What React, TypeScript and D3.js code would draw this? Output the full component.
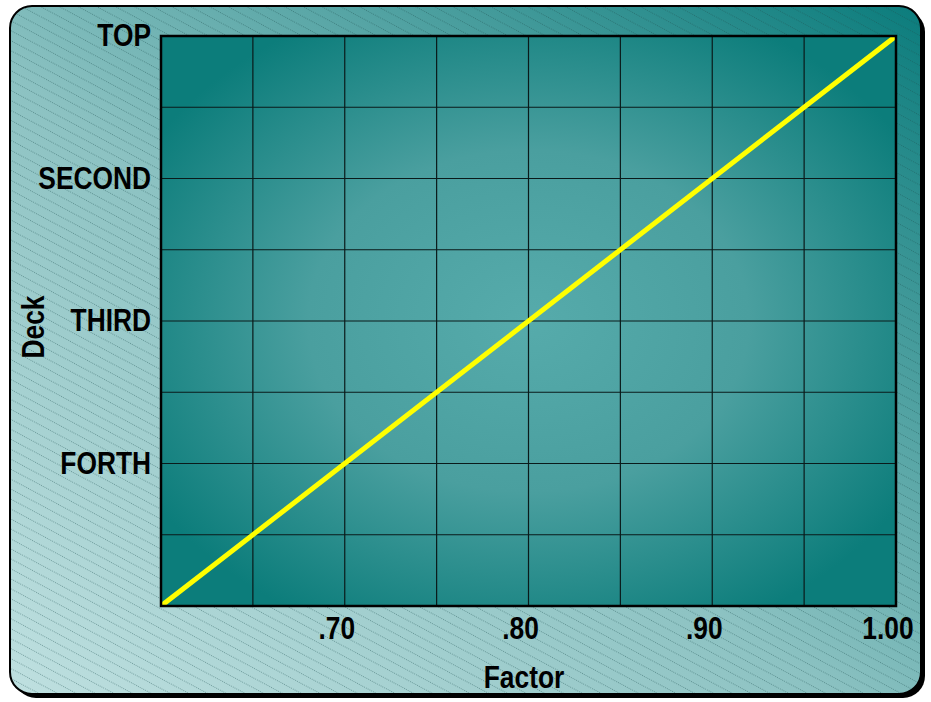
import React from "react";
import * as d3 from "d3";

const xTickValues = [0.7, 0.8, 0.9, 1.0];
const xTickLabels = [".70", ".80", ".90", "1.00"];
const yTickValues = [1, 2, 3, 4];
const yTickLabels = ["FORTH", "THIRD", "SECOND", "TOP"];
const lineX = [0.6, 1.0];
const lineY = [0, 4];
const xDomain = [0.6, 1.0];
const yDomain = [0, 4];

const W = 931;
const H = 702;
const FONT = "'Liberation Sans', Arial, sans-serif";
const SX = 0.85;

function NarrowText({ x, y, anchor, children, rotate }: { x: number; y: number; anchor: string; children: string; rotate?: number }) {
  const t = rotate ? `translate(${x},${y}) rotate(${rotate}) scale(${SX},1)` : `translate(${x},${y}) scale(${SX},1)`;
  return (
    <text transform={t} textAnchor={anchor}>{children}</text>
  );
}

export default function App() {
  const left = 161, right = 896, top = 36, bottom = 606;
  const x = d3.scaleLinear().domain(xDomain).range([left, right]);
  const y = d3.scaleLinear().domain(yDomain).range([bottom, top]);
  const xGrid = d3.range(0.65, 0.999, 0.05);
  const yGrid = d3.range(0.5, 3.999, 0.5);
  const pts: [number, number][] = lineX.map((v, i) => [v, lineY[i]]);
  const line = d3.line<[number, number]>().x(d => x(d[0])).y(d => y(d[1]));

  return (
    <svg width={W} height={H} style={{ position: "absolute", left: 0, top: 0 }}>
      <defs>
        <linearGradient id="bg" x1="0" y1="1" x2="1" y2="0">
          <stop offset="0" stopColor="#bfe0e0" />
          <stop offset="0.45" stopColor="#8cc2c2" />
          <stop offset="1" stopColor="#0b7c7c" />
        </linearGradient>
        <pattern id="hatch" width="40" height="8.8" patternUnits="userSpaceOnUse" patternTransform="rotate(28)">
          <line x1="0" y1="4.4" x2="40" y2="4.4" stroke="rgba(30,80,80,0.42)" strokeWidth="1" strokeDasharray="1 1" />
        </pattern>
        <radialGradient id="plotbg" cx="0.5" cy="0.5" r="0.6" fx="0.5" fy="0.5">
          <stop offset="0" stopColor="#56abab" />
          <stop offset="0.5" stopColor="#4a9f9f" />
          <stop offset="1" stopColor="#0c7d7b" />
        </radialGradient>
        <clipPath id="plotclip">
          <rect x={left} y={top} width={right - left} height={bottom - top} />
        </clipPath>
      </defs>
      <rect x={14} y={10} width={911} height={688} rx={22} fill="#000" />
      <rect x={10} y={6} width={911} height={688} rx={22} fill="url(#bg)" stroke="#000" strokeWidth={2} />
      <rect x={11} y={7} width={909} height={686} rx={21} fill="url(#hatch)" />
      <rect x={left} y={top} width={right - left} height={bottom - top} fill="url(#plotbg)" />
      <g stroke="#0a1a1a" strokeWidth={1.2}>
        {xGrid.map((v, i) => (
          <line key={"gx" + i} x1={x(v)} x2={x(v)} y1={top} y2={bottom} />
        ))}
        {yGrid.map((v, i) => (
          <line key={"gy" + i} x1={left} x2={right} y1={y(v)} y2={y(v)} />
        ))}
      </g>
      <path d={line(pts) || ""} stroke="#ffff00" strokeWidth={5} fill="none" clipPath="url(#plotclip)" />
      <rect x={left} y={top} width={right - left} height={bottom - top} fill="none" stroke="#000" strokeWidth={2.5} />
      <g fontFamily={FONT} fontWeight="bold" fontSize={31} fill="#000">
        {yTickValues.map((v, i) => (
          <NarrowText key={"yt" + i} x={151} y={y(v) + 10} anchor="end">{yTickLabels[i]}</NarrowText>
        ))}
        {xTickValues.map((v, i) => (
          <NarrowText key={"xt" + i} x={x(v) - 8} y={639} anchor="middle">{xTickLabels[i]}</NarrowText>
        ))}
        <NarrowText x={524} y={688} anchor="middle">Factor</NarrowText>
        <NarrowText x={44} y={327} anchor="middle" rotate={-90}>Deck</NarrowText>
      </g>
    </svg>
  );
}
